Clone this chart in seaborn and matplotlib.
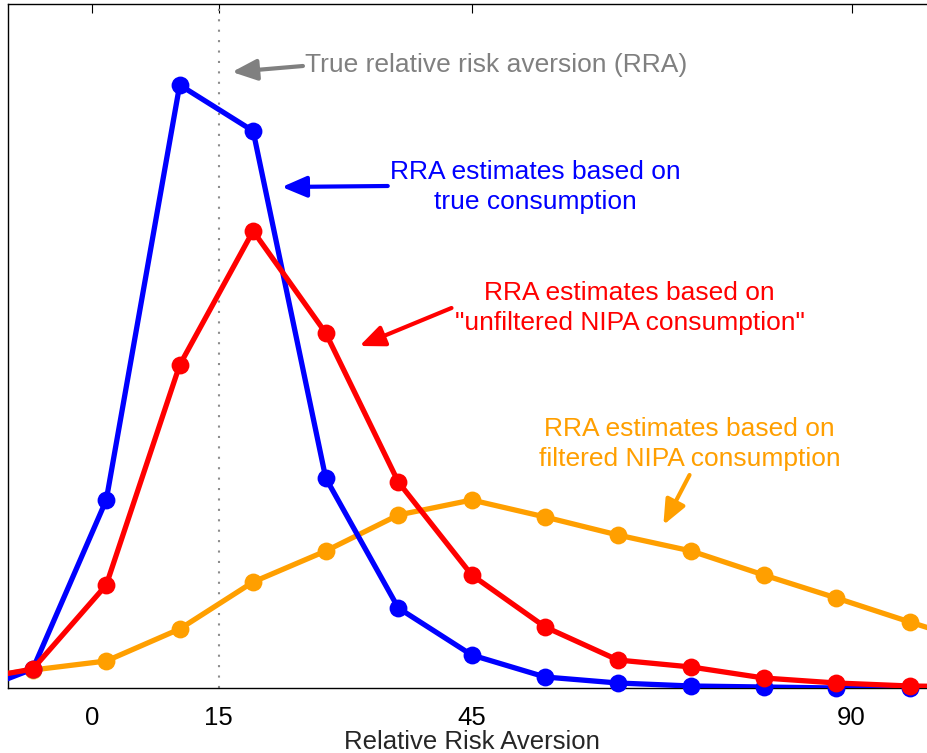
#Importing the libraries
import numpy as np
import pandas as pd
import seaborn as sns
import matplotlib
matplotlib.use('Agg')
import matplotlib.pyplot as plt

#Data (density of RRA estimates, arbitrary units)
rra = [-15.6, -7.0, 1.7, 10.4, 19.1, 27.7, 36.3, 45.0, 53.7, 62.3, 71.0, 79.6, 88.2, 96.9, 105.5]
true_cons = [-0.9, 1.9, 18.8, 60.3, 55.7, 21.0, 8.0, 3.3, 1.1, 0.5, 0.2, 0.1, 0.0, 0.0, 0.0]
unfiltered_nipa = [0.6, 1.9, 10.3, 32.3, 45.7, 35.5, 20.6, 11.3, 6.1, 2.8, 2.1, 1.0, 0.5, 0.2, 0.1]
filtered_nipa = [0.8, 1.8, 2.7, 5.9, 10.6, 13.7, 17.3, 18.8, 17.1, 15.3, 13.7, 11.3, 9.0, 6.6, 4.3]
true_rra = 15
xtick_values = [0, 15, 45, 90]

# build long dataframe
df = pd.DataFrame({'RRA': rra * 3,
                   'density': true_cons + unfiltered_nipa + filtered_nipa,
                   'series': ['true'] * len(rra) + ['unfiltered'] * len(rra) + ['filtered'] * len(rra)})

colors = {'true': '#0000FF', 'unfiltered': '#FF0000', 'filtered': '#FF9F00'}
order = ['filtered', 'true', 'unfiltered']   # drawing order (red on top)

sns.set_style('white')
plt.rcParams['font.family'] = ['Liberation Sans', 'DejaVu Sans']

fig = plt.figure(figsize=(9.28, 7.53), dpi=100)
ax = fig.add_axes([7.5/928, 1 - 688/753, (936 - 7.5)/928, (688 - 3.5)/753])

xmin, xmax = -10, 100
ymin, ymax = 0, 68.45

# true RRA reference line
ax.axvline(true_rra, color='#8c8c8c', lw=1.5, linestyle=(0, (1, 4)), zorder=1)

# lines (clipped) then markers (not clipped, like the original)
for i, s in enumerate(order):
    sub = df[df['series'] == s]
    sns.lineplot(data=sub, x='RRA', y='density', color=colors[s], lw=3.8, ax=ax,
                 zorder=3 + 2*i, legend=False)
    vis = sub[(sub['RRA'] > xmin) & (sub['RRA'] < xmax)]
    sns.scatterplot(data=vis, x='RRA', y='density', color=colors[s], s=165, linewidth=0,
                    ax=ax, zorder=4 + 2*i, clip_on=False, legend=False)

ax.set_xlim(xmin, xmax)
ax.set_ylim(ymin, ymax)
ax.set_xticks(xtick_values)
ax.set_xticklabels([str(v) for v in xtick_values])
ax.set_yticks([])
ax.tick_params(axis='x', direction='in', top=True, length=6.5, width=0.8,
               labelsize=18.5, pad=13, colors='black')
for sp in ax.spines.values():
    sp.set_visible(True)
    sp.set_color('black')
    sp.set_linewidth(1.0)
ax.set_xlabel('Relative Risk Aversion', fontsize=18.5, labelpad=0)
ax.set_ylabel('')

# annotations
fs = 19
def arrow(tail, head, color):
    ax.annotate('', xy=head, xytext=tail,
                arrowprops=dict(arrowstyle='-|>,head_length=0.75,head_width=0.32',
                                color=color, lw=3, shrinkA=0, shrinkB=0,
                                mutation_scale=20), zorder=10)

ax.text(25.2, 62.3, 'True relative risk aversion (RRA)', color='#808080', fontsize=fs,
        ha='left', va='center')
arrow((25.0, 62.2), (16.6, 61.6), '#808080')

ax.text(52.5, 50.1, 'RRA estimates based on\ntrue consumption', color=colors['true'],
        fontsize=fs, ha='center', va='center', linespacing=1.32)
arrow((35.05, 50.2), (22.5, 50.1), colors['true'])

ax.text(63.7, 38.0, 'RRA estimates based on\n"unfiltered NIPA consumption"', color=colors['unfiltered'],
        fontsize=fs, ha='center', va='center', linespacing=1.32)
arrow((42.6, 38.0), (31.7, 34.2), colors['unfiltered'])

ax.text(70.8, 24.4, 'RRA estimates based on\nfiltered NIPA consumption', color=colors['filtered'],
        fontsize=fs, ha='center', va='center', linespacing=1.32)
arrow((70.8, 21.3), (67.7, 16.3), colors['filtered'])

fig.savefig('out.png', dpi=100)
